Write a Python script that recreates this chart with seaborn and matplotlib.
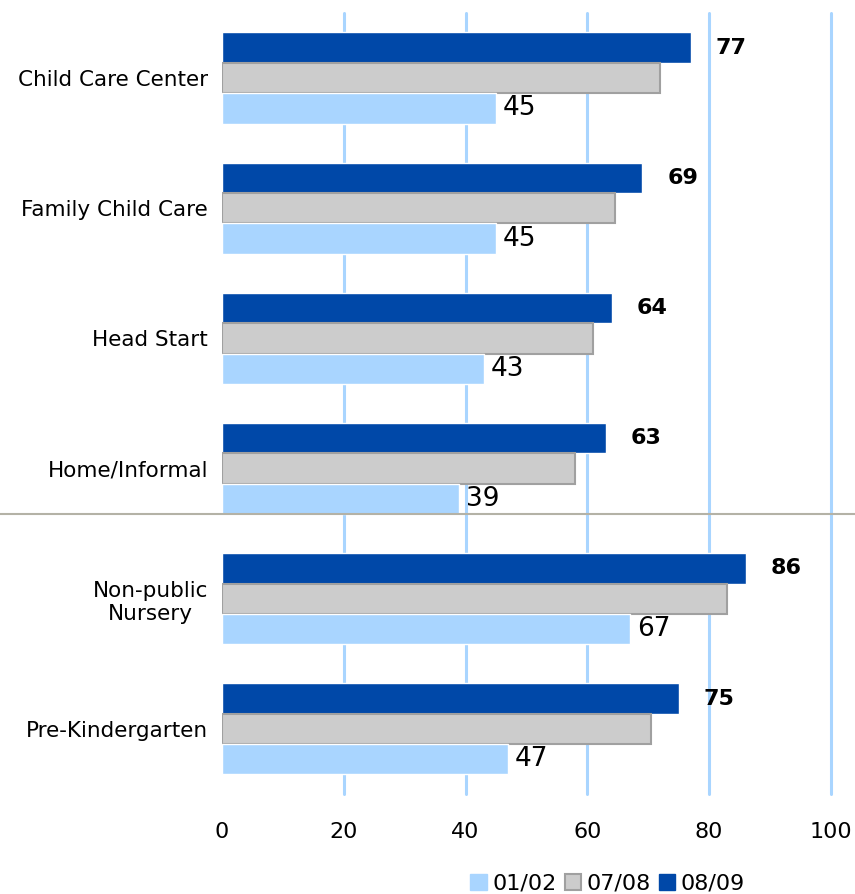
import pandas as pd
import matplotlib
matplotlib.use("Agg")
import matplotlib.pyplot as plt
import matplotlib.transforms as mtrans
from matplotlib.patches import Patch
import seaborn as sns

# === Data ===
categories = ["Child Care Center", "Family Child Care", "Head Start",
              "Home/Informal", "Non-public\nNursery", "Pre-Kindergarten"]
v_0809 = [77, 69, 64, 63, 86, 75]
v_0708 = [72, 64.5, 61, 58, 83, 70.5]
v_0102 = [45, 45, 43, 39, 67, 47]
periods = ["08/09", "07/08", "01/02"]

df = pd.DataFrame({
    "category": categories * 3,
    "period": ["08/09"] * 6 + ["07/08"] * 6 + ["01/02"] * 6,
    "value": v_0809 + v_0708 + v_0102,
})

colors = {"08/09": "#0048A8", "07/08": "#CCCCCC", "01/02": "#A9D5FF"}
grid_col = "#A9D5FF"

sns.set_style("white")
plt.rcParams["font.family"] = ["DejaVu Sans"]
plt.rcParams["text.color"] = "black"
plt.rcParams["xtick.color"] = "black"
plt.rcParams["ytick.color"] = "black"

fig = plt.figure(figsize=(8.55, 8.94), dpi=100)
ax = fig.add_axes([0.2596, 0.1119, 0.7123, 0.8736])

sns.barplot(data=df, x="value", y="category", hue="period", hue_order=periods,
            palette=colors, orient="h", width=0.7, saturation=1,
            legend=False, ax=ax, zorder=3)

# gray bars get a darker outline
for p in ax.containers[1]:
    p.set_edgecolor("#A0A0A0")
    p.set_linewidth(1.5)

# value labels: bold for 08/09, plain for 01/02
ax.bar_label(ax.containers[0], labels=[str(v) for v in v_0809], padding=18,
             fontsize=16, fontweight="bold", color="black")
ax.bar_label(ax.containers[2], labels=[str(v) for v in v_0102], padding=5,
             fontsize=19, color="black")

ax.set_xlim(0, 100)
ax.set_ylim(5.5, -0.5)
ax.set_xticks([0, 20, 40, 60, 80, 100])
ax.xaxis.grid(True, color=grid_col, linewidth=2.2, zorder=0)
ax.get_xgridlines()[0].set_visible(False)
for gl in ax.get_xgridlines():
    gl.set_clip_on(False)
ax.yaxis.grid(False)
ax.set_axisbelow(True)
for s in ax.spines.values():
    s.set_visible(False)
ax.tick_params(axis="x", length=0, pad=20, labelsize=16)
ax.tick_params(axis="y", length=0, pad=10, labelsize=15.5)
for lbl in ax.get_yticklabels():
    lbl.set_multialignment("center")
ax.set_xlabel("")
ax.set_ylabel("")

# separator between the two groups of settings, across the whole figure
tr = mtrans.blended_transform_factory(fig.transFigure, ax.transData)
ax.plot([0, 1], [3.35, 3.35], transform=tr, color="#B4B2A6", linewidth=1.5,
        clip_on=False, zorder=4)

# legend
handles = [Patch(facecolor=colors["01/02"], edgecolor=colors["01/02"]),
           Patch(facecolor=colors["07/08"], edgecolor="#A0A0A0", linewidth=1.5),
           Patch(facecolor=colors["08/09"], edgecolor=colors["08/09"])]
fig.legend(handles, ["01/02", "07/08", "08/09"], loc="lower right",
           bbox_to_anchor=(0.895, -0.022), ncol=3, frameon=False, fontsize=16,
           handlelength=0.75, handleheight=0.75, handletextpad=0.25,
           columnspacing=0.35)

fig.savefig("out.png", dpi=100)
